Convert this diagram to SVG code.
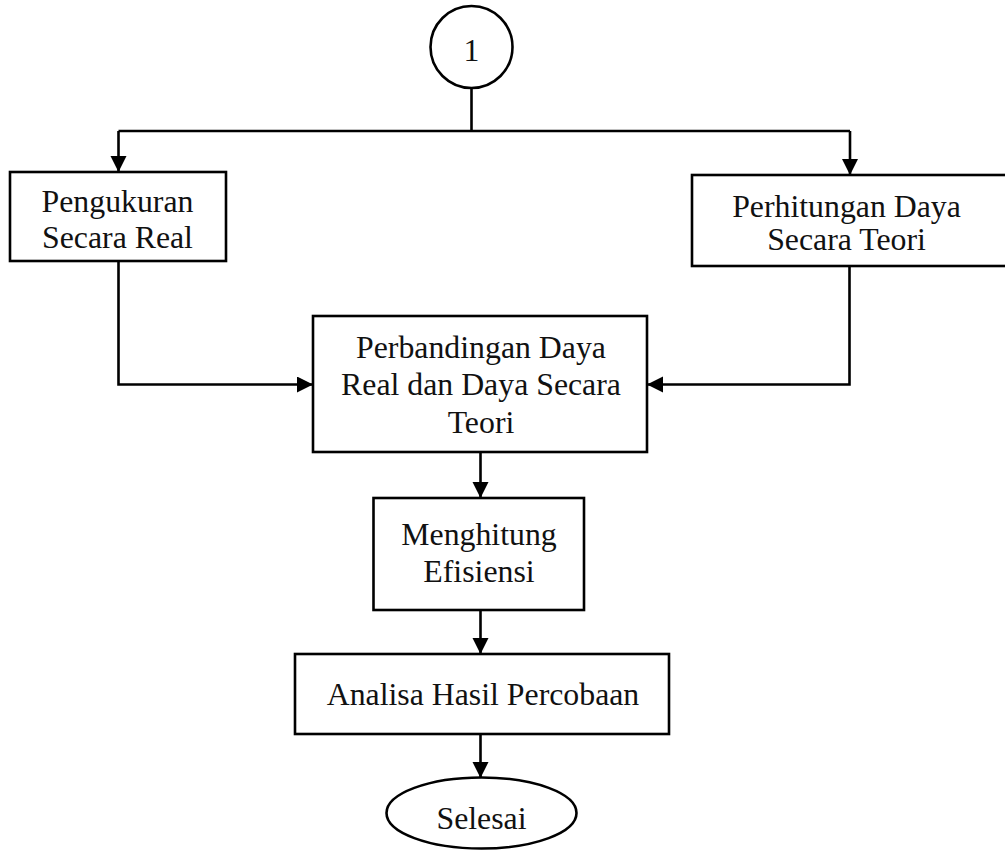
<svg xmlns="http://www.w3.org/2000/svg" width="1005" height="852" viewBox="0 0 1005 852">
<style>
.box{fill:#fff;stroke:#000;stroke-width:2.6}
.t{font-family:"Liberation Serif","Times New Roman",serif;font-size:31.8px;fill:#111;text-anchor:middle}
.c{fill:none;stroke:#000;stroke-width:2.6}
</style>
<defs>
<marker id="arr" markerUnits="userSpaceOnUse" markerWidth="18" markerHeight="18" refX="16" refY="8" orient="auto">
<path d="M0,0 L16,8 L0,16 z" fill="#000"/>
</marker>
</defs>
<rect width="1005" height="852" fill="#fff"/>
<g id="connectors">
<path class="c" d="M471.5,88 V131"/>
<path class="c" d="M118.5,131 H850"/>
<path class="c" d="M118.5,131 V172" marker-end="url(#arr)"/>
<path class="c" d="M850,131 V175" marker-end="url(#arr)"/>
<path class="c" d="M118.5,256 V384.5 H313" marker-end="url(#arr)"/>
<path class="c" d="M849.5,265 V384.5 H647" marker-end="url(#arr)"/>
<path class="c" d="M480.5,452 V498" marker-end="url(#arr)"/>
<path class="c" d="M480.5,610 V654" marker-end="url(#arr)"/>
<path class="c" d="M480.5,734 V778" marker-end="url(#arr)"/>
</g>
<g id="n1">
<circle class="box" cx="471.5" cy="47" r="41"/>
<text class="t" x="471.5" y="61">1</text>
</g>
<g id="pengukuran">
<rect class="box" x="10" y="172" width="216" height="89"/>
<text class="t" x="117.5" y="212">Pengukuran</text>
<text class="t" x="117.5" y="248">Secara Real</text>
</g>
<g id="perhitungan">
<rect class="box" x="692" y="175" width="330" height="91"/>
<text class="t" x="846.5" y="217">Perhitungan Daya</text>
<text class="t" x="846.5" y="250">Secara Teori</text>
</g>
<g id="perbandingan">
<rect class="box" x="313" y="316" width="334" height="136"/>
<text class="t" x="481" y="358">Perbandingan Daya</text>
<text class="t" x="481" y="395">Real dan Daya Secara</text>
<text class="t" x="481" y="432.5">Teori</text>
</g>
<g id="menghitung">
<rect class="box" x="373.5" y="498" width="210.5" height="112"/>
<text class="t" x="479" y="545">Menghitung</text>
<text class="t" x="479" y="582">Efisiensi</text>
</g>
<g id="analisa">
<rect class="box" x="295" y="654" width="374" height="80"/>
<text class="t" x="483" y="705">Analisa Hasil Percobaan</text>
</g>
<g id="selesai">
<ellipse class="box" cx="481.5" cy="813" rx="95" ry="35.5"/>
<text class="t" x="481.5" y="829">Selesai</text>
</g>
</svg>
